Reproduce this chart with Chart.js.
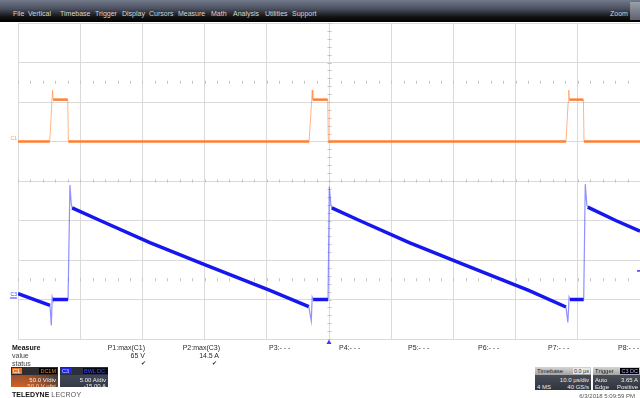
<!DOCTYPE html>
<html>
<head>
<meta charset="utf-8">
<script src="https://cdn.jsdelivr.net/npm/chart.js@4.4.0/dist/chart.umd.min.js"></script>
<style>
  html, body { margin: 0; padding: 0; background: #fff; }
  body { width: 640px; height: 398px; position: relative; overflow: hidden; font-family: "Liberation Sans", Arial, sans-serif; }
  #scope { position: absolute; left: 0; top: 0; }
  .t { position: absolute; white-space: nowrap; line-height: 1; font-size: 7px; color: #2a2a2a; }
  .menu { position: absolute; left: 0; top: 0; width: 640px; height: 22px;
    background: linear-gradient(to bottom, #737a8b 0%, #4a505f 40%, #151517 75%, #000 100%); }
  .menu span { position: absolute; top: 10px; font-size: 7px; line-height: 1; color: #d4d4d4; white-space: nowrap; }
  .zoomicon { position: absolute; left: 630px; top: 2px; width: 10px; height: 18px; background: linear-gradient(#9aa0aa, #5c616c); }
  .box { position: absolute; overflow: hidden; font-size: 6px; line-height: 1; }
  .box .hd { position: absolute; left: 0; top: 0; right: 0; height: 8px; }
  .box .ln { position: absolute; white-space: nowrap; }
  .tag { position: absolute; top: 1px; height: 6px; line-height: 6px; font-size: 5.5px; padding: 0 1px; }
</style>
</head>
<body>
<canvas id="scope" width="640" height="398"></canvas>

<div class="menu">
  <span style="left:13px">File</span>
  <span style="left:28px">Vertical</span>
  <span style="left:60px">Timebase</span>
  <span style="left:95px">Trigger</span>
  <span style="left:122px">Display</span>
  <span style="left:149px">Cursors</span>
  <span style="left:178px">Measure</span>
  <span style="left:211px">Math</span>
  <span style="left:233px">Analysis</span>
  <span style="left:265px">Utilities</span>
  <span style="left:292px">Support</span>
  <span style="left:610px">Zoom</span>
  <div class="zoomicon"></div>
</div>

<!-- measure table -->
<div class="t" style="left:12px;top:344px;font-weight:bold;color:#111">Measure</div>
<div class="t" style="left:12px;top:351.5px;color:#444">value</div>
<div class="t" style="left:12px;top:359.5px;color:#444">status</div>
<div class="t" style="right:495px;top:344px">P1:max(C1)</div>
<div class="t" style="right:495px;top:351.5px">65 V</div>
<div class="t" style="right:494px;top:359.5px;font-family:'DejaVu Sans';font-size:6px">✔</div>
<div class="t" style="right:420px;top:344px">P2:max(C3)</div>
<div class="t" style="right:421px;top:351.5px">14.5 A</div>
<div class="t" style="right:423px;top:359.5px;font-family:'DejaVu Sans';font-size:6px">✔</div>
<div class="t" style="left:269px;top:343.5px">P3:- - -</div>
<div class="t" style="left:339px;top:343.5px">P4:- - -</div>
<div class="t" style="left:408px;top:343.5px">P5:- - -</div>
<div class="t" style="left:478px;top:343.5px">P6:- - -</div>
<div class="t" style="left:548px;top:343.5px">P7:- - -</div>
<div class="t" style="left:618px;top:343.5px">P8:- - -</div>

<!-- channel descriptors -->
<div class="box" style="left:11px;top:367px;width:47px;height:20px;background:radial-gradient(ellipse at 15% 120%, #e06a26 0%, #a0522a 45%, #3c3c3c 85%);">
  <div class="hd" style="background:#2e2e2e"></div>
  <div class="tag" style="left:1px;width:8px;background:#e8742c;color:#fff">C1</div>
  <div class="tag" style="right:1px;background:#000;color:#f08030">DC1M</div>
  <div class="ln" style="right:2px;top:10px;color:#f2f2f2">50.0 V/div</div>
  <div class="ln" style="right:2px;top:16px;color:#ffd0a8">50.0 V ofst</div>
</div>
<div class="box" style="left:60px;top:367px;width:48px;height:20px;background:linear-gradient(#4a5160, #343a46);">
  <div class="hd" style="background:#2a2f3a"></div>
  <div class="tag" style="left:1px;width:9px;background:#2424e6;color:#cfd3ff">C3</div>
  <div class="tag" style="left:23px;width:11px;background:#0a0a14;color:#3a4cff">BWL</div>
  <div class="tag" style="left:36px;width:10px;background:#0a0a14;color:#3a4cff">DC</div>
  <div class="ln" style="right:2px;top:10px;color:#f0f0f0">5.00 A/div</div>
  <div class="ln" style="right:2px;top:16px;color:#f0f0f0">-15.00 A</div>
</div>
<div class="t" style="left:12px;top:390.5px;font-size:7px"><b style="color:#111">TELEDYNE</b> <span style="color:#555;letter-spacing:0.2px">LECROY</span></div>

<!-- timebase / trigger -->
<div class="box" style="left:535px;top:367px;width:56px;height:23px;background:linear-gradient(#555a66, #30343c);">
  <div class="hd" style="background:linear-gradient(#d4d4d4, #a4a4a4)"></div>
  <div class="ln" style="left:2px;top:1px;color:#222">Timebase</div>
  <div class="tag" style="right:1px;background:#e6e6e6;color:#333">0.0 µs</div>
  <div class="ln" style="right:2px;top:10px;color:#eee">10.0 µs/div</div>
  <div class="ln" style="left:2px;top:17px;color:#eee">4 MS</div>
  <div class="ln" style="right:2px;top:17px;color:#eee">40 GS/s</div>
</div>
<div class="box" style="left:593px;top:367px;width:47px;height:23px;background:linear-gradient(#555a66, #30343c);">
  <div class="hd" style="background:linear-gradient(#d4d4d4, #a4a4a4)"></div>
  <div class="ln" style="left:2px;top:1px;color:#222">Trigger</div>
  <div class="tag" style="right:1px;background:#000;color:#aab0ff">C3 DC</div>
  <div class="ln" style="left:2px;top:10px;color:#eee">Auto</div>
  <div class="ln" style="right:2px;top:10px;color:#eee">3.65 A</div>
  <div class="ln" style="left:2px;top:17px;color:#eee">Edge</div>
  <div class="ln" style="right:2px;top:17px;color:#eee">Positive</div>
</div>
<div class="t" style="right:5px;top:392.5px;font-size:6px;color:#555">6/3/2018 5:09:59 PM</div>

<script>
// C1 (orange, volts) and C3 (blue, amps), time in µs
const c1Time  = [-50, -44.9, -44.55, -44.45, -44.35, -42.0, -41.9, -3.2, -2.8, -2.7, -2.6, -0.2, -0.1, 38.1, 38.45, 38.55, 38.65, 40.9, 41.0, 50];
const c1Volts = [  0,     0,     50,     65,     53,    53,     0,    0,   50,   65,   53,   53,    0,    0,    50,    65,    53,   53,    0,  0];

const c3Time = [-50, -44.85, -44.65, -44.5, -44.4, -41.95, -41.65, -41.45, -41.3, -36.8, -28.8, -20.3, -9.5, -3.25, -2.85, -2.7, -2.55, -0.15,
                0.05, 0.3, 0.45, 4.9, 12.9, 21.4, 32.1, 38.1, 38.4, 38.6, 38.75, 40.95, 41.2, 41.45, 41.6, 46.1, 50];
const c3Amps = [0.75, -0.75, -3.3, 0.3, 0, 0, 14.5, 12.2, 11.6, 10.0, 7.2, 4.5, 1.15, -0.9, -2.7, 0.3, 0, 0,
                14.3, 12.0, 11.6, 10.0, 7.2, 4.5, 1.15, -0.95, -2.9, 0.3, 0, 0, 14.6, 12.0, 11.7, 10.0, 8.65];

const timeRange = [-50, 50];   // 10 µs/div
const voltRange = [-50, 150];  // 50 V/div
const ampRange  = [-5, 15];    // 5 A/div
const trigLevel = 3.65;

function pts(xs, ys) {
  return xs.map(function (x, i) { return { x: x, y: ys[i] }; });
}

// fast edges are drawn thin and pale, like the scope does
function fast(ctx) {
  return Math.abs(ctx.p1.parsed.x - ctx.p0.parsed.x) < 0.5;
}

const gridColor = "#dadada";

const scopeMarks = {
  id: "scopeMarks",
  beforeDatasetsDraw(chart) {
    const ctx = chart.ctx;
    const x = chart.scales.x, volt = chart.scales.volt, amp = chart.scales.amp;
    ctx.save();
    ctx.strokeStyle = "#c4c4c4";
    ctx.lineWidth = 1;
    ctx.beginPath();
    const x0 = Math.round(x.getPixelForValue(0)) + 0.5;
    for (let v = voltRange[0]; v <= voltRange[1]; v += 10) {
      const y = Math.round(volt.getPixelForValue(v)) + 0.5;
      ctx.moveTo(x0 - 2, y); ctx.lineTo(x0 + 2, y);
    }
    for (let a = ampRange[0]; a <= ampRange[1]; a += 1) {
      const y = Math.round(amp.getPixelForValue(a)) + 0.5;
      ctx.moveTo(x0 - 2, y); ctx.lineTo(x0 + 2, y);
    }
    const rows = [volt.getPixelForValue(75), amp.getPixelForValue(15), amp.getPixelForValue(2.5)];
    for (let t = timeRange[0]; t <= timeRange[1]; t += 2) {
      const px = Math.round(x.getPixelForValue(t)) + 0.5;
      rows.forEach(function (r) { ctx.moveTo(px, r - 1.5); ctx.lineTo(px, r + 1.5); });
    }
    ctx.stroke();
    ctx.restore();
  },
  afterDatasetsDraw(chart) {
    const ctx = chart.ctx;
    const x = chart.scales.x, volt = chart.scales.volt, amp = chart.scales.amp;
    const left = chart.chartArea.left, bottom = chart.chartArea.bottom, right = chart.chartArea.right;
    ctx.save();
    ctx.font = "5px 'Liberation Sans', Arial";
    ctx.textAlign = "right";
    ctx.textBaseline = "bottom";
    ctx.fillStyle = "#ff9a5a";
    ctx.fillText("C1", left - 1, volt.getPixelForValue(0));
    ctx.fillStyle = "#3a3aff";
    const y3 = amp.getPixelForValue(0);
    ctx.fillText("C3", left - 1, y3 - 2);
    ctx.fillRect(left - 8, y3 - 2, 7, 1);
    // trigger position and level
    const tx = x.getPixelForValue(0);
    ctx.beginPath();
    ctx.moveTo(tx, bottom + 0.5);
    ctx.lineTo(tx - 2.5, bottom + 5);
    ctx.lineTo(tx + 2.5, bottom + 5);
    ctx.closePath();
    ctx.fill();
    ctx.fillRect(right - 3, amp.getPixelForValue(trigLevel) - 0.5, 3, 1.5);
    ctx.restore();
  }
};

new Chart(document.getElementById("scope"), {
  type: "line",
  data: {
    datasets: [
      {
        label: "C1",
        data: pts(c1Time, c1Volts),
        yAxisID: "volt",
        borderColor: "#ff7f33",
        borderWidth: 2.5,
        pointRadius: 0,
        tension: 0,
        segment: {
          borderColor: function (ctx) { return fast(ctx) ? "rgba(255,140,70,0.65)" : undefined; },
          borderWidth: function (ctx) { return fast(ctx) ? 1 : undefined; }
        }
      },
      {
        label: "C3",
        data: pts(c3Time, c3Amps),
        yAxisID: "amp",
        borderColor: "#1616ee",
        borderWidth: 3.5,
        pointRadius: 0,
        tension: 0,
        segment: {
          borderColor: function (ctx) { return fast(ctx) ? "rgba(70,70,255,0.6)" : undefined; },
          borderWidth: function (ctx) { return fast(ctx) ? 1.2 : undefined; }
        }
      }
    ]
  },
  options: {
    responsive: false,
    animation: false,
    events: [],
    layout: { padding: { left: 18, top: 23, right: 0, bottom: 59 } },
    plugins: { legend: { display: false }, tooltip: { enabled: false } },
    scales: {
      x: {
        type: "linear",
        min: timeRange[0], max: timeRange[1],
        ticks: { display: false, stepSize: 10 },
        grid: { color: gridColor, drawTicks: false },
        border: { color: gridColor }
      },
      // left axes in a stack are laid out last-defined on top
      amp: {
        type: "linear",
        position: "left",
        stack: "scope",
        stackWeight: 1,
        min: ampRange[0], max: ampRange[1],
        ticks: { display: false, stepSize: 5 },
        grid: { color: gridColor, drawTicks: false },
        border: { color: gridColor }
      },
      volt: {
        type: "linear",
        position: "left",
        stack: "scope",
        stackWeight: 1,
        min: voltRange[0], max: voltRange[1],
        ticks: { display: false, stepSize: 50 },
        grid: { color: gridColor, drawTicks: false },
        border: { color: gridColor }
      }
    }
  },
  plugins: [scopeMarks]
});
</script>
</body>
</html>
